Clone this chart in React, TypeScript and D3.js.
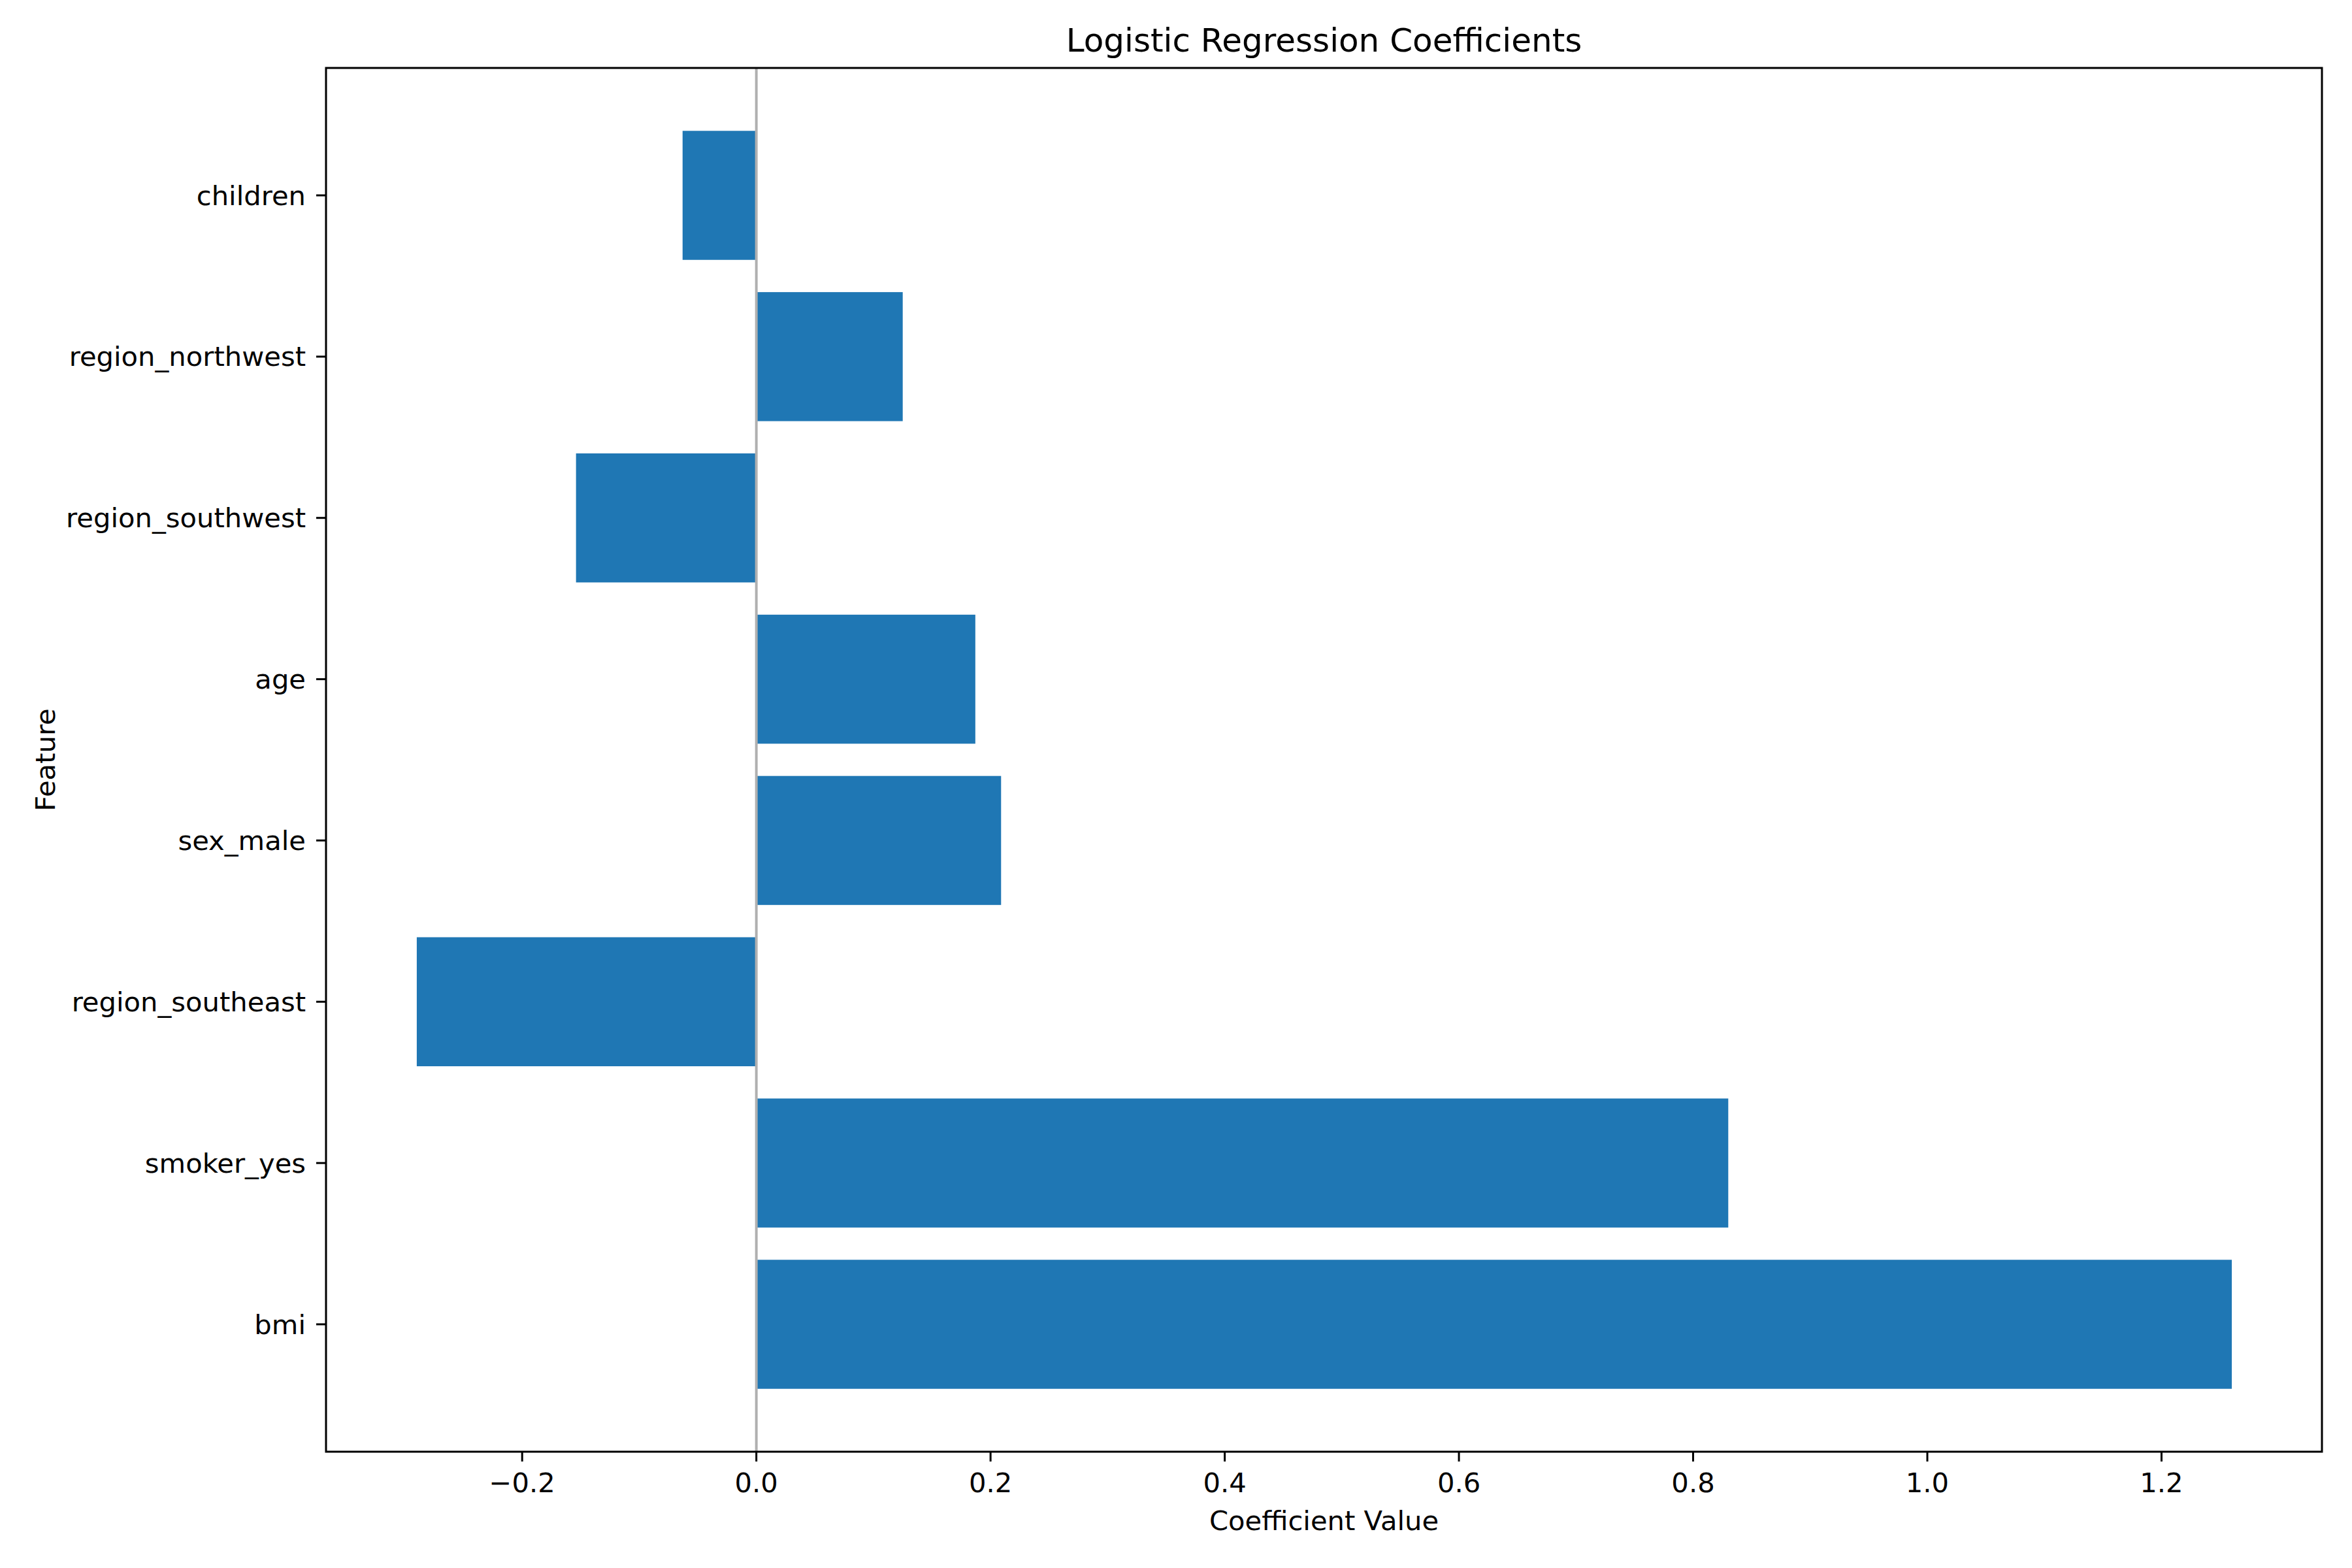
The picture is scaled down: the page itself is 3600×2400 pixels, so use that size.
import * as d3 from 'd3';

const features = ['bmi', 'smoker_yes', 'region_southeast', 'sex_male', 'age', 'region_southwest', 'region_northwest', 'children'];
const coefficients = [1.26, 0.83, -0.29, 0.209, 0.187, -0.154, 0.125, -0.063];
const xTicks = [-0.2, 0.0, 0.2, 0.4, 0.6, 0.8, 1.0, 1.2];

const W = 3600, H = 2400;
const m = { left: 499, right: 46, top: 104, bottom: 178 };

const App = () => {
  const x = d3.scaleLinear().domain([-0.3675, 1.337]).range([m.left, W - m.right]);
  const y = d3.scaleLinear().domain([-0.79, 7.79]).range([H - m.bottom, m.top]);
  const bh = y(0) - y(0.8);
  const font = 'DejaVu Sans, sans-serif';
  const fs = 41.7;
  return (
    <svg width={W} height={H} style={{ display: 'block', margin: -8 }} fontFamily={font}>
      <rect width={W} height={H} fill="white" />
      {coefficients.map((v, i) => (
        <rect key={features[i]} x={Math.min(x(0), x(v))} width={Math.abs(x(v) - x(0))}
          y={y(i) - bh / 2} height={bh} fill="#1f77b4" />
      ))}
      <line x1={x(0)} x2={x(0)} y1={m.top} y2={H - m.bottom} stroke="#b0b0b0" strokeWidth={4} />
      <rect x={m.left} y={m.top} width={W - m.left - m.right} height={H - m.top - m.bottom}
        fill="none" stroke="black" strokeWidth={3} />
      {xTicks.map(t => (
        <g key={t} transform={`translate(${x(t)},${H - m.bottom})`}>
          <line y2={15} stroke="black" strokeWidth={3} />
          <text y={62} textAnchor="middle" fontSize={fs}>{d3.format('.1f')(t).replace('-', '\u2212')}</text>
        </g>
      ))}
      {features.map((f, i) => (
        <g key={f} transform={`translate(${m.left},${y(i)})`}>
          <line x2={-15} stroke="black" strokeWidth={3} />
          <text x={-31} dy="0.35em" textAnchor="end" fontSize={fs}>{f}</text>
        </g>
      ))}
      <text x={(m.left + W - m.right) / 2} y={H - m.bottom + 120} textAnchor="middle" fontSize={fs}>Coefficient Value</text>
      <text transform={`translate(84,${(m.top + H - m.bottom) / 2}) rotate(-90)`} textAnchor="middle" fontSize={fs}>Feature</text>
      <text x={(m.left + W - m.right) / 2} y={m.top - 25} textAnchor="middle" fontSize={50}>Logistic Regression Coefficients</text>
    </svg>
  );
};

export default App;
